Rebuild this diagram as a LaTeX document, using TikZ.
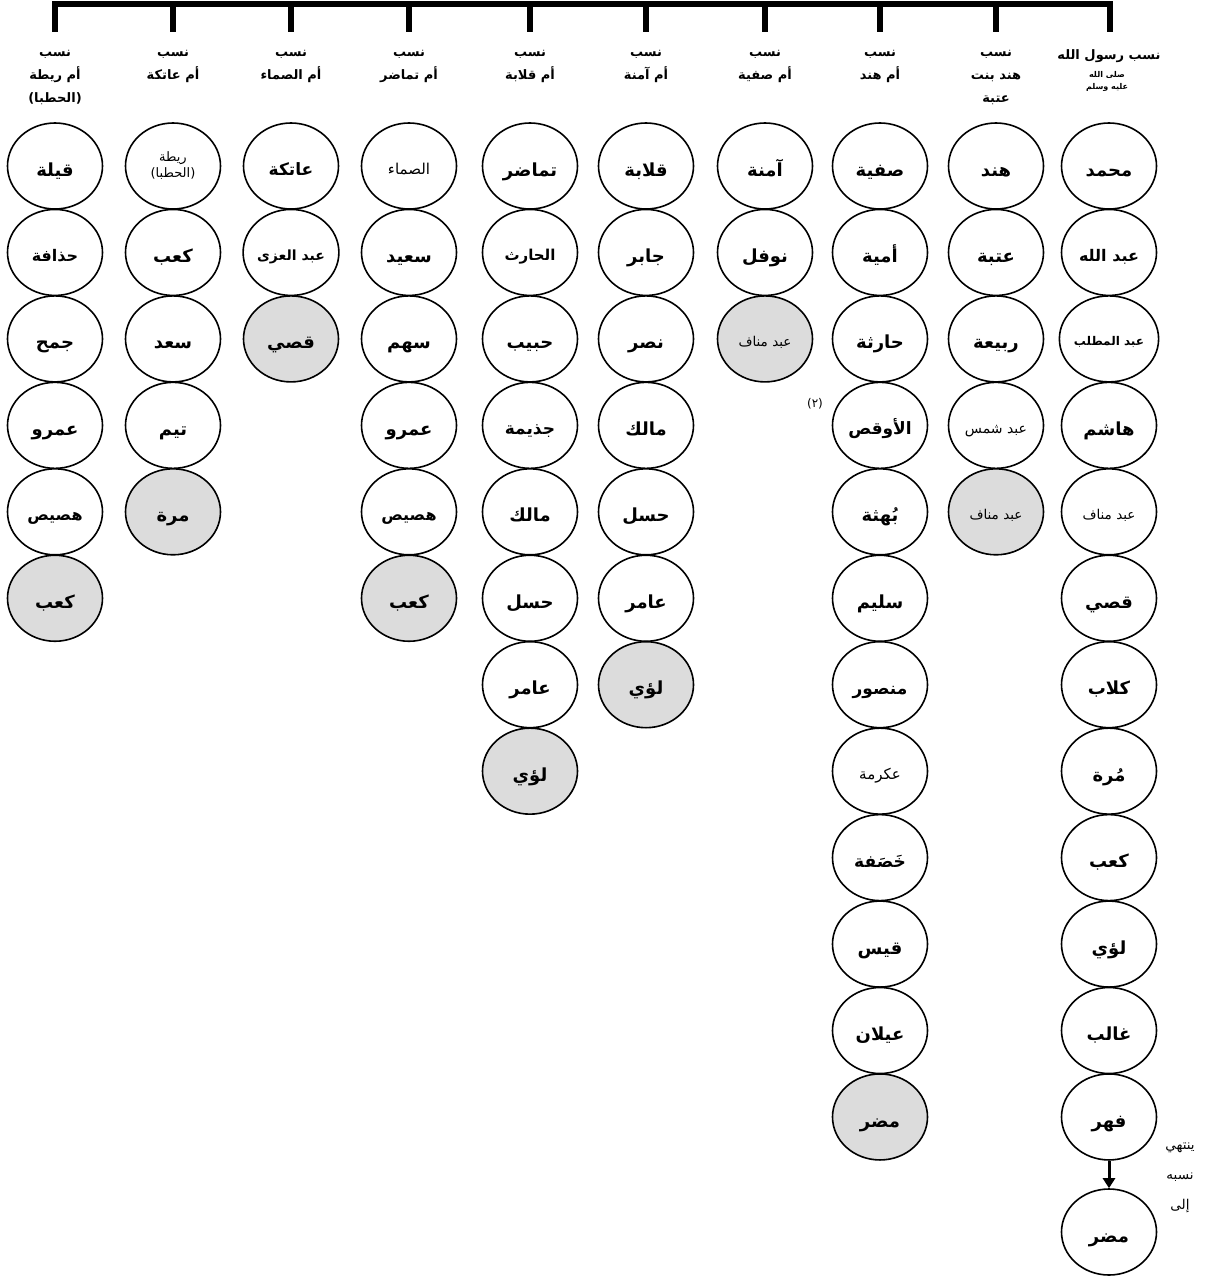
\documentclass[tikz,border=0pt]{standalone}
\usepackage{fontspec}
\usetikzlibrary{shapes.geometric,arrows.meta}
\TeXXeTstate=1
\newfontfamily\arabicfont[Script=Arabic]{DejaVu Sans}
\newcommand\artxt[1]{\beginR #1\endR}
\newcommand\ctr[1]{\raisebox{0pt}[1.12em][0pt]{#1}}
\definecolor{ancgray}{RGB}{220,220,220}
\newcommand\mkcol[3]{%
  \foreach \t/\s/\f/\w [count=\i] in {#3}{%
    \node[person, fill=\f] (#1-\i) at (#2, {166+(\i-1)*86.45}) {\w\fontsize{\s}{\s}\selectfont\ctr{\artxt{\t}}};
  }%
}
\begin{document}
\begin{tikzpicture}[x=1pt,y=-1pt,
  person/.style={ellipse, draw, line width=1.6pt, minimum width=95pt, minimum height=86pt, inner sep=0pt, font=\arabicfont},
  hdr/.style={font=\arabicfont\bfseries\fontsize{13}{23}\selectfont, align=center, anchor=north, inner sep=0pt},
  bar/.style={line width=6pt},
  note/.style={font=\arabicfont\fontsize{13.5}{30}\selectfont, align=center, inner sep=0pt}]
\useasboundingbox (0,0) rectangle (1216,1277);

% ---------- headers ----------
\node[hdr] (h1) at (1109,49) {\artxt{نسب رسول الله}};
\node[font=\arabicfont\bfseries\fontsize{8}{12}\selectfont, align=center, anchor=north, inner sep=0pt] (h1b) at (1107,71) {\artxt{صلى الله}\\\artxt{عليه وسلم}};
\node[hdr] (h2) at (996,50) {\artxt{نسب}\\\artxt{هند بنت}\\\artxt{عتبة}};
\node[hdr] (h3) at (880,50) {\artxt{نسب}\\\artxt{أم هند}};
\node[hdr] (h4) at (765,50) {\artxt{نسب}\\\artxt{أم صفية}};
\node[hdr] (h5) at (646,50) {\artxt{نسب}\\\artxt{أم آمنة}};
\node[hdr] (h6) at (530,50) {\artxt{نسب}\\\artxt{أم قلابة}};
\node[hdr] (h7) at (409,50) {\artxt{نسب}\\\artxt{أم تماضر}};
\node[hdr] (h8) at (291,50) {\artxt{نسب}\\\artxt{أم الصماء}};
\node[hdr] (h9) at (173,50) {\artxt{نسب}\\\artxt{أم عاتكة}};
\node[hdr] (h10) at (55,50) {\artxt{نسب}\\\artxt{أم ريطة}\\\artxt{(الحطبا)}};

% ---------- top bracket ----------
\foreach \k/\x in {1/1110,2/996,3/880,4/765,5/646,6/530,7/409,8/291,9/173,10/55}{
  \coordinate (tk\k) at (\x,32);
  \coordinate (tb\k) at (\x,4);
}
\draw[bar] ([xshift=-3pt]tb10) -- ([xshift=3pt]tb1);
\foreach \k in {1,...,10}{ \draw[bar] ([yshift=-3pt]tb\k) -- (tk\k); }

% ---------- columns ----------
\mkcol{c1}{1109}{محمد/18/white/\bfseries, عبد الله/16/white/\bfseries, عبد المطلب/12/white/\bfseries, هاشم/18/white/\bfseries, عبد مناف/13.5/white/\mdseries, قصي/18/white/\bfseries, كلاب/18/white/\bfseries, مُرة/18/white/\bfseries, كعب/18/white/\bfseries, لؤي/18/white/\bfseries, غالب/18/white/\bfseries, فهر/18/white/\bfseries}
\node[person, font=\arabicfont\bfseries\fontsize{18}{18}\selectfont] (c1-13) at (1109,1232) {\ctr{\artxt{مضر}}};

\mkcol{c2}{996}{هند/18/white/\bfseries, عتبة/18/white/\bfseries, ربيعة/18/white/\bfseries, عبد شمس/14/white/\mdseries, عبد مناف/13.5/ancgray/\mdseries}

\mkcol{c3}{880}{صفية/18/white/\bfseries, أمية/18/white/\bfseries, حارثة/18/white/\bfseries, الأوقص/17/white/\bfseries, بُهثة/18/white/\bfseries, سليم/18/white/\bfseries, منصور/17/white/\bfseries, عكرمة/15/white/\mdseries, خَصَفة/17/white/\bfseries, قيس/18/white/\bfseries, عيلان/18/white/\bfseries, مضر/18/ancgray/\bfseries}

\mkcol{c4}{765}{آمنة/18/white/\bfseries, نوفل/18/white/\bfseries, عبد مناف/13.5/ancgray/\mdseries}

\mkcol{c5}{646}{قلابة/18/white/\bfseries, جابر/18/white/\bfseries, نصر/18/white/\bfseries, مالك/18/white/\bfseries, حسل/18/white/\bfseries, عامر/18/white/\bfseries, لؤي/18/ancgray/\bfseries}

\mkcol{c6}{530}{تماضر/18/white/\bfseries, الحارث/15/white/\bfseries, حبيب/18/white/\bfseries, جذيمة/17/white/\bfseries, مالك/18/white/\bfseries, حسل/18/white/\bfseries, عامر/18/white/\bfseries, لؤي/18/ancgray/\bfseries}

\mkcol{c7}{409}{الصماء/15/white/\mdseries, سعيد/18/white/\bfseries, سهم/18/white/\bfseries, عمرو/18/white/\bfseries, هصيص/16/white/\bfseries, كعب/18/ancgray/\bfseries}

\mkcol{c8}{291}{عاتكة/17/white/\bfseries, عبد العزى/14/white/\bfseries, قصي/18/ancgray/\bfseries}

\node[person, align=center, font=\arabicfont\mdseries\fontsize{13}{16}\selectfont] (c9-1) at (173,166) {\artxt{ريطة}\\\artxt{(الحطبا)}};
\node[person, font=\arabicfont\bfseries\fontsize{18}{18}\selectfont] (c9-2) at (173,252.45) {\ctr{\artxt{كعب}}};
\node[person, font=\arabicfont\bfseries\fontsize{18}{18}\selectfont] (c9-3) at (173,338.9) {\ctr{\artxt{سعد}}};
\node[person, font=\arabicfont\bfseries\fontsize{18}{18}\selectfont] (c9-4) at (173,425.35) {\ctr{\artxt{تيم}}};
\node[person, fill=ancgray, font=\arabicfont\bfseries\fontsize{18}{18}\selectfont] (c9-5) at (173,511.8) {\ctr{\artxt{مرة}}};

\mkcol{c10}{55}{قيلة/18/white/\bfseries, حذافة/16/white/\bfseries, جمح/18/white/\bfseries, عمرو/18/white/\bfseries, هصيص/16/white/\bfseries, كعب/18/ancgray/\bfseries}

% ---------- notes ----------
\node[font=\arabicfont\fontsize{12}{12}\selectfont, inner sep=0pt] (n2) at (815,404) {\artxt{(٢)}};
\draw[line width=3pt, -{Triangle[length=10pt,width=12pt]}] (c1-12) -- (c1-13);
\node[note] (nt) at (1180,1178) {\artxt{ينتهي}\\\artxt{نسبه}\\\artxt{إلى}};
\end{tikzpicture}
\end{document}
